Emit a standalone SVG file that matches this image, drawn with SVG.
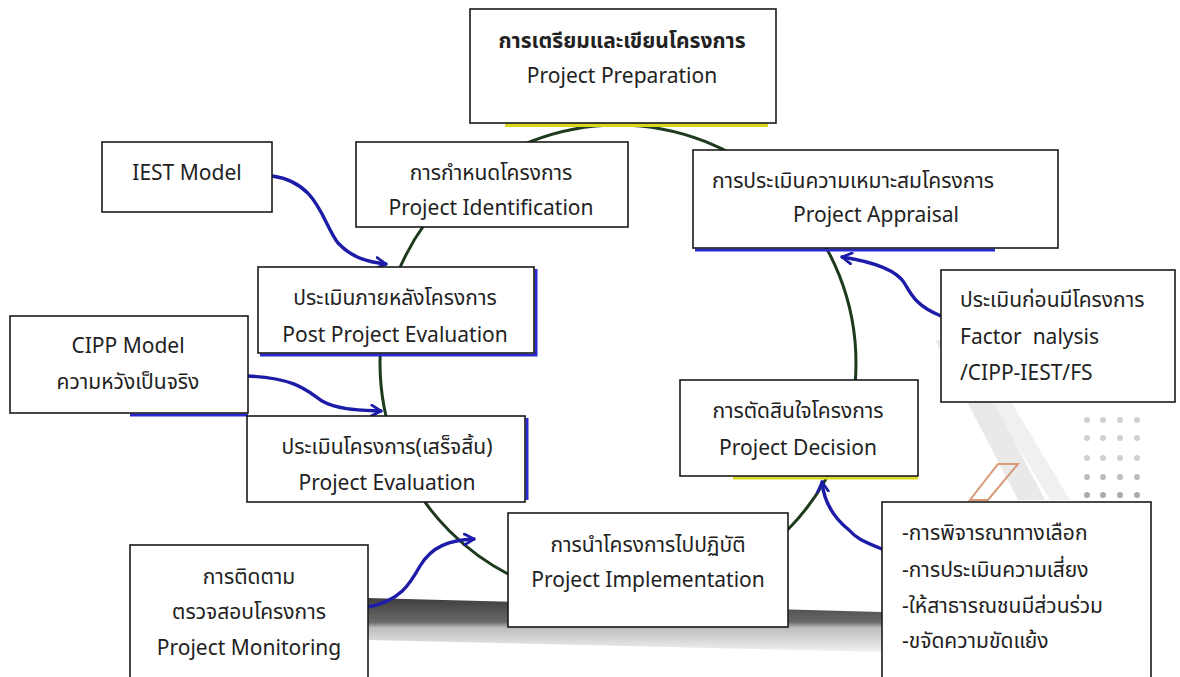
<svg xmlns="http://www.w3.org/2000/svg" width="1180" height="677" viewBox="0 0 1180 677">
<defs>
<style>
.box{fill:#fff;stroke:#1a1a1a;stroke-width:1.6}
.t{font-family:"Noto Sans","Noto Sans Thai","Tahoma","DejaVu Sans",sans-serif;font-size:21px;fill:#222;white-space:pre}
.c{text-anchor:middle}
.b{font-weight:bold}
.ring{fill:none;stroke:#1d3a1d;stroke-width:3}
.arr{fill:none;stroke:#1c1ca8;stroke-width:3.4;stroke-linecap:round;marker-end:url(#ah)}
</style>
<marker id="ah" viewBox="0 0 10 10" refX="8" refY="5" markerWidth="4" markerHeight="4" orient="auto" markerUnits="strokeWidth">
<path d="M1,1 L8,5 L1,9" fill="none" stroke="#1c1ca8" stroke-width="2" stroke-linecap="round" stroke-linejoin="round"/>
</marker>
<linearGradient id="road" x1="0" y1="0" x2="0" y2="1">
<stop offset="0" stop-color="#3e3e3e"/>
<stop offset="0.45" stop-color="#6a6a6a"/>
<stop offset="0.55" stop-color="#bdbdbd"/>
<stop offset="1" stop-color="#f2f2f2"/>
</linearGradient>
</defs>
<rect width="1180" height="677" fill="#fff"/>
<g id="background">
<polygon points="368,598 882,612 882,652 368,640" fill="url(#road)"/>
<polygon points="935,340 962,340 1045,500 1018,500" fill="#e4e4e4" opacity="0.8"/>
<polygon points="990,400 1010,400 1070,500 1050,500" fill="#ececec" opacity="0.8"/>
<polygon points="998,464 1018,464 988,500 970,500" fill="none" stroke="#d99a78" stroke-width="2"/>
<g fill="#d0d0d0">
<circle cx="1087" cy="420" r="3"/><circle cx="1103" cy="420" r="3"/><circle cx="1120" cy="420" r="3"/><circle cx="1137" cy="420" r="3"/>
<circle cx="1087" cy="438" r="3"/><circle cx="1103" cy="438" r="3"/><circle cx="1120" cy="438" r="3"/><circle cx="1137" cy="438" r="3"/>
<circle cx="1087" cy="458" r="3"/><circle cx="1103" cy="458" r="3"/><circle cx="1120" cy="458" r="3"/><circle cx="1137" cy="458" r="3"/>
<circle cx="1087" cy="477" r="3" fill="#bdbdbd"/><circle cx="1103" cy="477" r="3" fill="#bdbdbd"/><circle cx="1120" cy="477" r="3" fill="#bdbdbd"/><circle cx="1137" cy="477" r="3" fill="#bdbdbd"/>
<circle cx="1087" cy="495" r="3" fill="#aaa"/><circle cx="1103" cy="495" r="3" fill="#aaa"/><circle cx="1120" cy="495" r="3" fill="#aaa"/><circle cx="1137" cy="495" r="3" fill="#aaa"/>
</g>
</g>
<g id="connectors">
<circle class="ring" cx="618" cy="363" r="238"/>
<path class="arr" d="M272,176 C318,182 322,222 338,243 C352,258 368,262 386,264"/>
<path class="arr" d="M247,376 C298,378 308,392 322,401 C338,410 360,410 381,411"/>
<path class="arr" d="M368,607 C400,601 410,584 420,566 C432,546 450,540 474,539"/>
<path class="arr" d="M941,316 C916,306 911,294 905,284 C896,268 868,261 842,257"/>
<path class="arr" d="M882,549 C862,541 856,538 849,530 C834,518 824,502 822,482"/>
</g>
<g id="n-prep">
<line x1="505" y1="125" x2="768" y2="125" stroke="#d8d820" stroke-width="4"/>
<rect class="box" x="470" y="9" width="306" height="114"/>
<text class="t c b" x="622" y="48">การเตรียมและเขียนโครงการ</text>
<text class="t c" x="622" y="83">Project Preparation</text>
</g>
<g id="n-ident">
<rect class="box" x="356" y="142" width="272" height="85"/>
<text class="t c" x="491" y="180">การกำหนดโครงการ</text>
<text class="t c" x="491" y="215">Project Identification</text>
</g>
<g id="n-appraisal">
<line x1="695" y1="250" x2="995" y2="250" stroke="#2a2ad0" stroke-width="3"/>
<rect class="box" x="693" y="150" width="365" height="98"/>
<text class="t" x="712" y="188">การประเมินความเหมาะสมโครงการ</text>
<text class="t" x="793" y="222">Project Appraisal</text>
</g>
<g id="n-iest">
<rect class="box" x="102" y="142" width="170" height="70"/>
<text class="t c" x="187" y="180">IEST Model</text>
</g>
<g id="n-post">
<polyline points="260,355 536,355 536,269" fill="none" stroke="#2a2ad0" stroke-width="3"/>
<rect class="box" x="258" y="267" width="276" height="86"/>
<text class="t c" x="395" y="305">ประเมินภายหลังโครงการ</text>
<text class="t c" x="395" y="342">Post Project Evaluation</text>
</g>
<g id="n-cipp">
<line x1="130" y1="415" x2="248" y2="415" stroke="#2a2ad0" stroke-width="3"/>
<rect class="box" x="10" y="316" width="238" height="97"/>
<text class="t c" x="128" y="353">CIPP Model</text>
<text class="t c" x="128" y="389">ความหวังเป็นจริง</text>
</g>
<g id="n-factor">
<rect class="box" x="941" y="270" width="234" height="132"/>
<text class="t" x="960" y="307">ประเมินก่อนมีโครงการ</text>
<text class="t" x="960" y="344">Factor  nalysis</text>
<text class="t" x="960" y="380">/CIPP-IEST/FS</text>
</g>
<g id="n-eval">
<line x1="527" y1="418" x2="527" y2="500" stroke="#2a2ad0" stroke-width="3"/>
<rect class="box" x="247" y="416" width="278" height="86"/>
<text class="t c" x="387" y="454">ประเมินโครงการ(เสร็จสิ้น)</text>
<text class="t c" x="387" y="490">Project Evaluation</text>
</g>
<g id="n-decision">
<line x1="733" y1="478" x2="918" y2="478" stroke="#d8d820" stroke-width="3"/>
<rect class="box" x="680" y="380" width="238" height="96"/>
<text class="t c" x="798" y="418">การตัดสินใจโครงการ</text>
<text class="t c" x="798" y="455">Project Decision</text>
</g>
<g id="n-impl">
<rect class="box" x="508" y="513" width="280" height="114"/>
<text class="t c" x="648" y="552">การนำโครงการไปปฏิบัติ</text>
<text class="t c" x="648" y="587">Project Implementation</text>
</g>
<g id="n-monitor">
<rect class="box" x="130" y="545" width="238" height="150"/>
<text class="t c" x="249" y="584">การติดตาม</text>
<text class="t c" x="249" y="619">ตรวจสอบโครงการ</text>
<text class="t c" x="249" y="655">Project Monitoring</text>
</g>
<g id="n-bullets">
<rect class="box" x="882" y="502" width="269" height="190"/>
<text class="t" x="902" y="540">-การพิจารณาทางเลือก</text>
<text class="t" x="902" y="577">-การประเมินความเสี่ยง</text>
<text class="t" x="902" y="613">-ให้สาธารณชนมีส่วนร่วม</text>
<text class="t" x="902" y="648">-ขจัดความขัดแย้ง</text>
</g>
</svg>
